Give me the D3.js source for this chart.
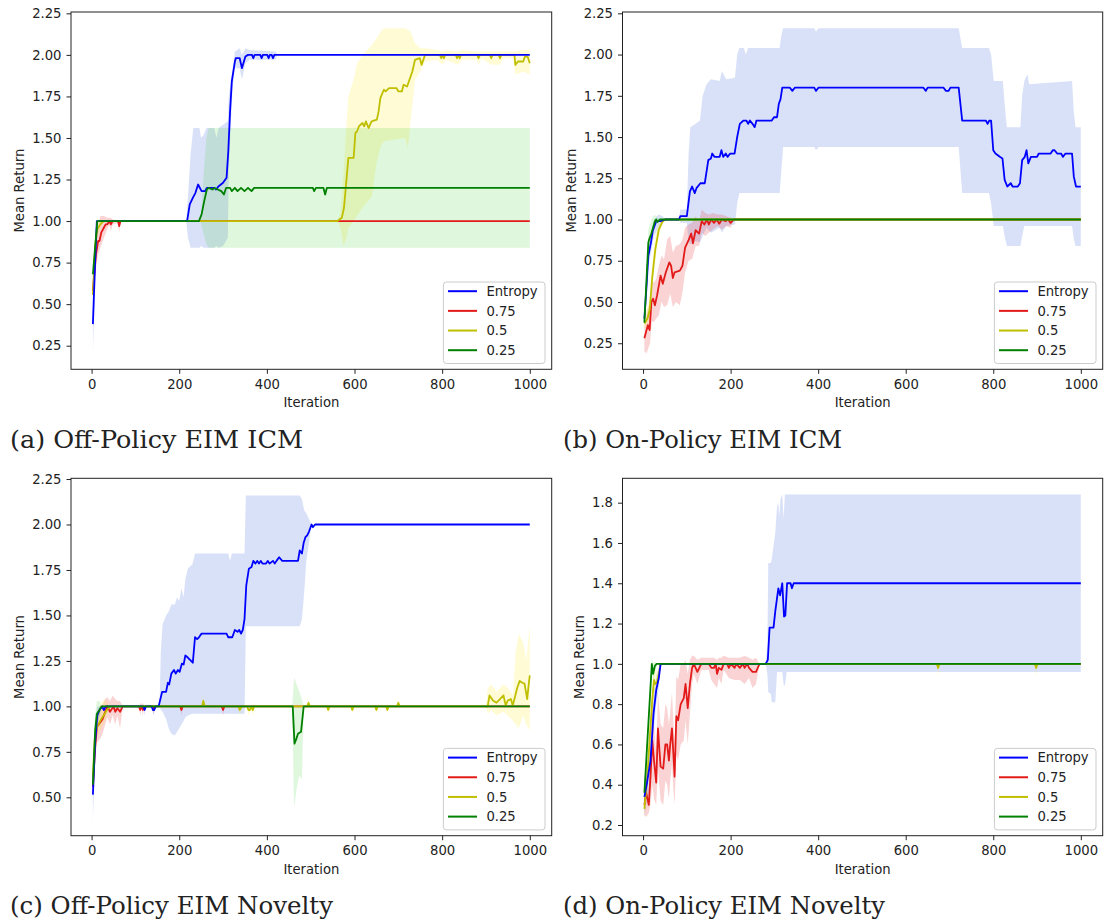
<!DOCTYPE html>
<html><head><meta charset="utf-8">
<script src="https://cdn.jsdelivr.net/npm/d3@7"></script>
<style>body{margin:0;background:#fff}</style>
</head><body>
<svg id="chart" width="1105" height="923"></svg>
<script>
// ---------------- data ----------------
const seriesLabels = ["Entropy", "0.75", "0.5", "0.25"];
const captions = ["(a) Off-Policy EIM ICM", "(b) On-Policy EIM ICM", "(c) Off-Policy EIM Novelty", "(d) On-Policy EIM Novelty"];
const xLabel = "Iteration";
const yLabel = "Mean Return";
const xTicks = [0, 200, 400, 600, 800, 1000];
const yTicksAB = [0.25, 0.50, 0.75, 1.00, 1.25, 1.50, 1.75, 2.00, 2.25];
const yTicksC = [0.50, 0.75, 1.00, 1.25, 1.50, 1.75, 2.00, 2.25];
const yTicksD = [0.2, 0.4, 0.6, 0.8, 1.0, 1.2, 1.4, 1.6, 1.8];

// (a) Off-Policy EIM ICM : [iteration, mean]  and bands [iteration, low, high]
const aEntropy = [[3,0.38],[8,0.75],[12,1.0],[218,1.0],[224,1.1],[231,1.14],[237,1.17],[243,1.22],[251,1.18],[259,1.18],[263,1.2],[280,1.2],[284,1.19],[290,1.21],[300,1.23],[308,1.26],[312,1.42],[316,1.66],[320,1.84],[327,1.96],[329,1.98],[338,1.98],[343,1.92],[351,1.99],[357,2.0],[366,2.0],[369,1.98],[372,2.0],[385,2.0],[388,1.98],[391,2.0],[401,2.0],[404,1.98],[407,2.0],[411,2.0],[414,1.98],[417,2.0],[1000,2.0]];
const aEntropyBand = [[3,0.21,0.55],[8,0.6,0.9],[12,1.0,1.0],[216,1.0,1.0],[220,0.9,1.15],[226,0.84,1.4],[232,0.84,1.56],[246,0.84,1.56],[250,0.85,1.5],[256,0.84,1.52],[262,0.84,1.56],[280,0.84,1.56],[285,0.85,1.5],[290,0.84,1.56],[300,0.85,1.58],[311,0.9,1.6],[313,1.3,1.75],[318,1.6,1.85],[322,1.8,1.92],[327,1.92,2.02],[338,1.92,2.04],[343,1.85,2.0],[351,1.95,2.04],[360,1.97,2.03],[420,1.97,2.02],[424,2.0,2.0],[1000,2.0,2.0]];
const aR75 = [[3,0.58],[10,0.8],[15,0.88],[18,0.88],[22,0.93],[28,0.96],[32,0.98],[36,0.98],[40,1.0],[44,0.98],[48,1.0],[60,1.0],[63,0.97],[66,1.0],[1000,1.0]];
const aR75Band = [[3,0.52,0.64],[10,0.72,0.92],[15,0.8,0.98],[20,0.84,1.03],[28,0.9,1.03],[36,0.95,1.02],[40,0.98,1.02],[44,0.94,1.02],[48,0.98,1.01],[60,0.99,1.0],[63,0.93,1.01],[66,1.0,1.0],[1000,1.0,1.0]];
const aY50 = [[3,0.555],[8,0.85],[13,0.95],[20,0.98],[27,1.0],[561,1.0],[571,1.02],[576,1.08],[580,1.2],[586,1.38],[598,1.38],[602,1.53],[606,1.54],[610,1.57],[618,1.59],[622,1.57],[626,1.6],[632,1.56],[639,1.6],[651,1.61],[655,1.66],[659,1.74],[667,1.79],[671,1.78],[679,1.8],[696,1.8],[700,1.78],[708,1.78],[712,1.82],[720,1.81],[724,1.84],[732,1.9],[738,1.97],[749,1.98],[753,1.94],[761,2.0],[795,2.0],[798,1.98],[801,2.0],[804,1.98],[807,2.0],[831,2.0],[834,1.98],[837,2.0],[840,1.98],[843,2.0],[880,2.0],[883,1.98],[886,2.0],[909,2.0],[912,1.98],[915,2.0],[929,2.0],[932,1.98],[935,2.0],[965,2.0],[967,1.94],[973,1.96],[985,1.96],[989,1.99],[995,1.99],[1000,1.95]];
const aY50Band = [[3,0.5,0.6],[8,0.78,0.92],[13,0.9,1.0],[20,0.95,1.01],[27,1.0,1.0],[561,1.0,1.0],[568,0.96,1.05],[575,0.85,1.3],[582,0.9,1.6],[586,0.96,1.75],[598,1.0,1.85],[606,1.03,1.95],[618,1.08,2.0],[640,1.15,2.06],[650,1.35,2.1],[660,1.45,2.14],[667,1.48,2.16],[715,1.5,2.16],[722,1.44,2.15],[728,1.6,2.14],[738,1.85,2.07],[750,1.9,2.04],[761,1.96,2.04],[790,1.97,2.03],[800,1.94,2.02],[808,1.97,2.03],[835,1.94,2.02],[845,1.97,2.03],[880,1.97,2.02],[883,1.94,2.02],[890,1.98,2.02],[912,1.94,2.02],[932,1.94,2.02],[940,1.98,2.02],[962,1.98,2.02],[967,1.88,2.02],[985,1.9,2.03],[1000,1.88,2.03]];
const aG25 = [[3,0.68],[13,1.0],[245,1.0],[251,1.04],[257,1.12],[263,1.19],[267,1.2],[276,1.19],[280,1.2],[288,1.19],[296,1.18],[302,1.16],[307,1.2],[316,1.2],[320,1.18],[327,1.2],[333,1.18],[341,1.2],[349,1.18],[357,1.2],[365,1.18],[371,1.2],[505,1.2],[508,1.18],[512,1.2],[529,1.2],[533,1.16],[537,1.2],[1000,1.2]];
const aG25Band = [[3,0.62,0.74],[13,1.0,1.0],[248,1.0,1.0],[252,0.96,1.12],[256,0.92,1.3],[262,0.86,1.5],[267,0.84,1.56],[1000,0.84,1.56]];

// (b) On-Policy EIM ICM
const bEntropy = [[3,0.4],[8,0.6],[12,0.78],[15,0.82],[18,0.86],[22,0.93],[26,0.96],[30,0.99],[40,0.99],[50,1.0],[82,1.0],[85,1.02],[100,1.02],[107,1.17],[112,1.2],[118,1.16],[122,1.19],[131,1.22],[141,1.22],[149,1.36],[155,1.37],[158,1.4],[163,1.38],[175,1.38],[179,1.42],[183,1.38],[189,1.4],[193,1.38],[199,1.4],[209,1.4],[215,1.5],[221,1.58],[229,1.6],[236,1.6],[240,1.58],[244,1.6],[250,1.58],[255,1.56],[259,1.6],[294,1.6],[299,1.62],[306,1.62],[310,1.7],[314,1.73],[318,1.8],[335,1.8],[341,1.78],[347,1.8],[391,1.8],[395,1.78],[401,1.8],[640,1.8],[646,1.78],[650,1.8],[686,1.8],[692,1.78],[698,1.78],[702,1.8],[721,1.8],[729,1.6],[783,1.6],[787,1.58],[791,1.6],[795,1.6],[800,1.42],[805,1.4],[815,1.38],[821,1.37],[826,1.24],[832,1.2],[840,1.22],[844,1.2],[856,1.2],[861,1.22],[866,1.36],[872,1.38],[876,1.42],[880,1.34],[886,1.38],[900,1.38],[904,1.4],[931,1.4],[936,1.42],[940,1.42],[946,1.4],[955,1.4],[959,1.38],[965,1.4],[980,1.4],[984,1.26],[989,1.2],[1000,1.2]];
const bEntropyBand = [[3,0.35,0.45],[12,0.72,0.85],[18,0.8,0.92],[25,0.9,1.0],[35,0.95,1.03],[45,0.98,1.02],[50,1.0,1.0],[82,1.0,1.0],[85,0.98,1.06],[100,0.98,1.06],[104,0.86,1.4],[108,0.85,1.56],[120,0.87,1.58],[130,0.86,1.6],[136,0.9,1.75],[145,0.95,1.82],[155,0.92,1.85],[175,0.95,1.84],[180,0.92,1.9],[190,0.96,1.85],[210,0.97,1.86],[215,1.1,2.0],[220,1.16,2.04],[230,1.16,2.04],[235,1.16,2.0],[240,1.16,2.04],[312,1.16,2.04],[316,1.3,2.12],[320,1.44,2.16],[391,1.44,2.16],[395,1.42,2.14],[401,1.44,2.16],[721,1.44,2.16],[729,1.16,2.04],[790,1.16,2.04],[795,1.1,2.0],[801,0.96,1.84],[822,0.96,1.84],[826,0.9,1.7],[831,0.84,1.56],[862,0.84,1.56],[866,0.9,1.75],[871,0.96,1.84],[878,0.96,1.88],[882,0.96,1.82],[980,0.96,1.84],[984,0.88,1.65],[988,0.84,1.56],[1000,0.84,1.56]];
const bR75 = [[3,0.28],[8,0.33],[11,0.36],[15,0.33],[19,0.5],[23,0.52],[27,0.48],[32,0.54],[36,0.6],[40,0.66],[45,0.61],[52,0.68],[60,0.74],[64,0.72],[68,0.645],[72,0.68],[84,0.69],[90,0.72],[96,0.83],[104,0.875],[110,0.915],[114,0.855],[120,0.935],[128,0.915],[134,0.99],[140,0.97],[146,1.0],[150,0.97],[156,1.0],[162,0.98],[168,1.0],[174,0.975],[180,1.0],[188,0.99],[194,1.0],[200,0.98],[207,1.0],[1000,1.0]];
const bR75Band = [[3,0.2,0.35],[8,0.19,0.42],[12,0.22,0.48],[16,0.25,0.42],[20,0.38,0.62],[25,0.38,0.62],[30,0.4,0.64],[36,0.42,0.72],[42,0.5,0.78],[48,0.47,0.76],[55,0.48,0.88],[62,0.55,0.9],[68,0.47,0.8],[75,0.5,0.84],[84,0.48,0.85],[90,0.56,0.88],[96,0.68,0.95],[104,0.75,0.97],[112,0.76,0.98],[120,0.84,1.02],[128,0.84,0.99],[134,0.92,1.06],[142,0.9,1.04],[150,0.92,1.03],[160,0.94,1.04],[170,0.96,1.03],[180,0.94,1.03],[190,0.96,1.02],[200,0.95,1.01],[207,1.0,1.0],[1000,1.0,1.0]];
const bY50 = [[3,0.37],[10,0.4],[15,0.45],[21,0.65],[28,0.82],[36,0.94],[44,0.985],[50,1.0],[1000,1.0]];
const bY50Band = [[3,0.34,0.42],[10,0.36,0.46],[15,0.4,0.52],[21,0.58,0.74],[28,0.76,0.9],[36,0.9,0.98],[44,0.97,1.0],[50,1.0,1.0],[1000,1.0,1.0]];
const bG25 = [[3,0.375],[12,0.86],[14,0.88],[19,0.915],[27,0.99],[30,1.0],[33,0.985],[38,1.0],[1000,1.0]];
const bG25Band = [[3,0.34,0.42],[12,0.8,0.94],[19,0.86,1.0],[26,0.97,1.03],[33,0.97,1.01],[38,1.0,1.0],[1000,1.0,1.0]];

// (c) Off-Policy EIM Novelty
const cEntropy = [[3,0.515],[8,0.8],[13,0.95],[18,0.98],[24,1.0],[28,0.98],[32,1.0],[118,1.0],[121,0.98],[124,1.0],[137,1.0],[140,0.98],[143,0.98],[146,1.0],[153,1.0],[161,1.08],[170,1.08],[174,1.13],[177,1.12],[182,1.18],[188,1.2],[192,1.18],[197,1.2],[201,1.19],[206,1.235],[210,1.23],[214,1.28],[219,1.27],[231,1.24],[236,1.38],[241,1.37],[245,1.38],[251,1.4],[308,1.4],[312,1.38],[321,1.38],[327,1.42],[333,1.41],[337,1.42],[341,1.4],[345,1.42],[349,1.48],[353,1.665],[359,1.757],[365,1.766],[369,1.8],[374,1.785],[378,1.8],[382,1.785],[386,1.8],[390,1.785],[398,1.785],[402,1.8],[406,1.785],[414,1.8],[418,1.785],[422,1.8],[428,1.82],[435,1.8],[471,1.8],[475,1.857],[480,1.84],[484,1.9],[488,1.93],[492,1.94],[496,1.96],[502,2.0],[505,1.985],[510,2.0],[1000,2.0]];
const cEntropyBand = [[3,0.37,0.66],[8,0.72,0.88],[13,0.9,1.0],[24,1.0,1.0],[118,1.0,1.0],[121,0.95,1.01],[124,1.0,1.0],[137,1.0,1.0],[141,0.95,1.01],[146,1.0,1.0],[155,1.0,1.0],[158,0.98,1.3],[162,0.97,1.45],[170,0.93,1.5],[176,0.88,1.52],[182,0.85,1.56],[190,0.84,1.56],[195,0.86,1.6],[200,0.88,1.58],[205,0.9,1.65],[210,0.92,1.6],[214,0.94,1.7],[220,0.95,1.76],[230,0.96,1.78],[236,0.96,1.84],[312,0.96,1.84],[316,0.96,1.8],[320,0.96,1.84],[349,0.96,1.84],[352,1.44,2.16],[475,1.44,2.16],[480,1.48,2.14],[485,1.62,2.08],[490,1.8,2.06],[496,1.9,2.03],[502,2.0,2.0],[1000,2.0,2.0]];
const cR75 = [[3,0.556],[8,0.77],[12,0.887],[19,0.91],[25,0.93],[31,0.97],[36,1.0],[42,0.97],[50,1.0],[54,0.97],[59,0.99],[65,0.97],[71,1.0],[108,1.0],[111,0.98],[114,1.0],[117,0.98],[120,1.0],[139,1.0],[142,0.98],[145,1.0],[202,1.0],[205,0.98],[208,1.0],[297,1.0],[300,0.98],[303,1.0],[1000,1.0]];
const cR75Band = [[3,0.5,0.62],[8,0.7,0.85],[12,0.8,0.97],[19,0.82,1.0],[25,0.85,1.01],[31,0.9,1.04],[36,0.94,1.05],[42,0.9,1.03],[48,0.95,1.06],[54,0.9,1.04],[59,0.95,1.03],[65,0.88,1.03],[71,1.0,1.0],[108,1.0,1.0],[111,0.95,1.02],[114,1.0,1.01],[117,0.95,1.02],[120,1.0,1.0],[139,1.0,1.0],[142,0.95,1.01],[145,1.0,1.0],[202,1.0,1.0],[205,0.95,1.01],[208,1.0,1.0],[297,1.0,1.0],[300,0.95,1.01],[303,1.0,1.0],[1000,1.0,1.0]];
const cY50 = [[3,0.62],[8,0.85],[15,0.9],[22,0.93],[30,0.96],[35,0.98],[42,1.0],[252,1.0],[255,1.03],[258,1.0],[335,1.0],[338,0.98],[343,1.0],[355,1.0],[358,0.98],[361,0.98],[364,1.0],[368,0.98],[371,1.0],[492,1.0],[495,1.02],[498,1.0],[537,1.0],[540,0.98],[543,1.0],[592,1.0],[595,0.98],[598,1.0],[647,1.0],[650,0.98],[653,1.0],[672,1.0],[675,0.98],[678,1.0],[697,1.0],[700,1.02],[703,1.0],[904,1.0],[908,1.06],[916,1.033],[924,1.02],[932,1.04],[940,1.06],[945,1.005],[950,1.033],[957,1.04],[961,1.005],[965,1.04],[971,1.1],[977,1.14],[983,1.13],[988,1.125],[994,1.04],[998,1.13],[1000,1.17]];
const cY50Band = [[3,0.55,0.7],[8,0.78,0.92],[15,0.84,0.98],[22,0.88,1.02],[30,0.92,1.04],[42,1.0,1.0],[252,1.0,1.0],[255,0.99,1.06],[258,1.0,1.0],[335,1.0,1.0],[338,0.95,1.0],[343,1.0,1.0],[355,1.0,1.0],[358,0.95,1.0],[364,0.98,1.0],[368,0.95,1.0],[371,1.0,1.0],[492,1.0,1.0],[495,1.0,1.04],[498,1.0,1.0],[537,1.0,1.0],[540,0.96,1.0],[543,1.0,1.0],[592,1.0,1.0],[595,0.96,1.0],[598,1.0,1.0],[647,1.0,1.0],[650,0.96,1.0],[653,1.0,1.0],[672,1.0,1.0],[675,0.96,1.0],[678,1.0,1.0],[697,1.0,1.0],[700,1.0,1.04],[703,1.0,1.0],[900,1.0,1.0],[904,0.96,1.1],[912,0.98,1.12],[924,0.95,1.08],[940,0.97,1.12],[950,0.95,1.1],[962,0.92,1.06],[968,0.9,1.3],[975,0.88,1.4],[985,0.95,1.35],[992,0.9,1.25],[1000,0.87,1.45]];
const cG25 = [[3,0.57],[8,0.865],[12,0.96],[18,0.98],[23,1.0],[459,1.0],[463,0.795],[467,0.82],[471,0.85],[478,0.86],[484,1.0],[1000,1.0]];
const cG25Band = [[3,0.45,0.68],[8,0.8,0.95],[12,0.9,1.03],[18,0.94,1.03],[23,1.0,1.0],[458,1.0,1.0],[462,0.44,1.16],[468,0.55,1.12],[474,0.62,1.08],[480,0.6,1.04],[484,1.0,1.0],[1000,1.0,1.0]];

// (d) On-Policy EIM Novelty
const dEntropy = [[3,0.34],[9,0.41],[17,0.52],[24,0.755],[30,0.87],[36,0.93],[40,1.0],[280,1.0],[285,1.02],[289,1.18],[298,1.18],[302,1.26],[309,1.375],[313,1.34],[318,1.4],[322,1.235],[325,1.24],[329,1.4],[337,1.4],[340,1.375],[344,1.4],[1000,1.4]];
const dEntropyBand = [[3,0.24,0.44],[9,0.32,0.5],[17,0.42,0.62],[24,0.66,0.85],[30,0.8,0.94],[36,0.88,0.98],[40,1.0,1.0],[280,1.0,1.0],[284,0.95,1.1],[286,0.86,1.5],[292,0.85,1.5],[294,0.81,1.52],[302,0.81,1.65],[306,0.96,1.78],[309,0.96,1.8],[311,0.96,1.73],[314,0.96,1.82],[318,0.96,1.84],[321,0.9,1.72],[324,0.89,1.84],[328,0.96,1.84],[1000,0.96,1.84]];
const dR75 = [[3,0.3],[7,0.36],[13,0.3],[17,0.44],[21,0.62],[25,0.52],[30,0.41],[34,0.68],[40,0.49],[46,0.48],[51,0.6],[55,0.6],[59,0.52],[62,0.6],[66,0.68],[69,0.56],[72,0.44],[76,0.74],[80,0.72],[86,0.8],[93,0.83],[97,0.9],[102,0.78],[107,0.9],[112,0.98],[116,1.0],[124,0.96],[133,1.0],[150,1.0],[156,0.98],[162,0.98],[166,1.0],[169,0.95],[173,0.98],[179,0.97],[184,1.0],[192,1.0],[196,0.98],[201,1.0],[209,0.98],[213,1.0],[221,0.98],[228,1.0],[232,0.98],[238,1.0],[242,0.98],[250,0.96],[258,0.96],[266,1.0],[1000,1.0]];
const dR75Band = [[3,0.25,0.34],[7,0.24,0.48],[13,0.26,0.36],[17,0.3,0.6],[21,0.4,0.82],[25,0.33,0.7],[30,0.3,0.55],[34,0.48,0.86],[40,0.32,0.7],[46,0.3,0.68],[51,0.42,0.8],[55,0.4,0.78],[59,0.33,0.7],[62,0.42,0.76],[66,0.5,0.86],[69,0.38,0.72],[72,0.3,0.6],[76,0.55,0.94],[80,0.52,0.92],[86,0.6,1.0],[93,0.62,1.0],[97,0.72,1.02],[102,0.6,0.95],[107,0.75,1.02],[112,0.9,1.04],[116,0.95,1.04],[124,0.9,1.02],[133,0.97,1.03],[150,0.97,1.03],[156,0.92,1.03],[162,0.9,1.03],[169,0.88,1.02],[173,0.93,1.03],[179,0.9,1.03],[184,0.97,1.04],[196,0.93,1.03],[209,0.92,1.03],[221,0.92,1.03],[232,0.9,1.04],[242,0.93,1.03],[250,0.88,1.02],[258,0.9,1.03],[266,1.0,1.0],[1000,1.0,1.0]];
const dY50 = [[3,0.28],[10,0.45],[15,0.62],[21,0.82],[25,0.92],[28,0.9],[32,0.91],[36,0.95],[40,1.0],[671,1.0],[674,0.98],[677,1.0],[895,1.0],[898,0.98],[901,1.0],[1000,1.0]];
const dY50Band = [[3,0.23,0.33],[10,0.38,0.52],[15,0.52,0.72],[21,0.74,0.9],[25,0.86,0.98],[32,0.86,0.96],[40,1.0,1.0],[671,1.0,1.0],[674,0.94,1.0],[677,1.0,1.0],[895,1.0,1.0],[898,0.94,1.0],[901,1.0,1.0],[1000,1.0,1.0]];
const dG25 = [[3,0.36],[20,1.0],[23,0.95],[27,0.99],[31,1.0],[1000,1.0]];
const dG25Band = [[3,0.33,0.4],[20,0.97,1.03],[23,0.9,1.0],[27,0.96,1.01],[31,1.0,1.0],[1000,1.0,1.0]];

// ---------------- styles ----------------
const lineColors = ["#0000ff", "#e31a1a", "#bfbf00", "#008000"];
const bandColors = ["rgb(65,105,225)", "rgb(230,60,60)", "rgb(255,235,40)", "rgb(80,210,60)"];
const bandOpacity = [0.2, 0.22, 0.2, 0.18];
const lineOrder = [1, 2, 0, 3];
const FONT = "'DejaVu Sans', sans-serif";
const FS = 13.2;

const panels = [
  {rect:[71,12,551.7,369.3], yDom:[0.108,2.258], yTicks:yTicksAB, fmt:".2f", ylabOff:51.8,
   means:[aEntropy,aR75,aY50,aG25], bands:[aEntropyBand,aR75Band,aY50Band,aG25Band], cap:[10,447.5,293]},
  {rect:[622.5,12,1102.7,369.3], yDom:[0.092,2.258], yTicks:yTicksAB, fmt:".2f", ylabOff:51.8,
   means:[bEntropy,bR75,bY50,bG25], bands:[bEntropyBand,bR75Band,bY50Band,bG25Band], cap:[563,447.5,279]},
  {rect:[71,478.3,551.7,835.7], yDom:[0.289,2.254], yTicks:yTicksC, fmt:".2f", ylabOff:51.8,
   means:[cEntropy,cR75,cY50,cG25], bands:[cEntropyBand,cR75Band,cY50Band,cG25Band], cap:[10,914,323]},
  {rect:[622.5,478.3,1102.7,835.7], yDom:[0.147,1.921], yTicks:yTicksD, fmt:".1f", ylabOff:43.5,
   means:[dEntropy,dR75,dY50,dG25], bands:[dEntropyBand,dR75Band,dY50Band,dG25Band], cap:[563,914,322]}
];

const svg = d3.select("#chart");

panels.forEach((p, pi) => {
  const [x0, y0, x1, y1] = p.rect;
  const x = d3.scaleLinear().domain([-47, 1050]).range([x0, x1]);
  const y = d3.scaleLinear().domain(p.yDom).range([y1, y0]);
  const g = svg.append("g");
  const clipId = "clip" + pi;
  g.append("clipPath").attr("id", clipId).append("rect")
    .attr("x", x0).attr("y", y0).attr("width", x1 - x0).attr("height", y1 - y0);
  const plot = g.append("g").attr("clip-path", `url(#${clipId})`);

  const area = d3.area().x(d => x(d[0])).y0(d => y(d[1])).y1(d => y(d[2]));
  const line = d3.line().x(d => x(d[0])).y(d => y(d[1]));

  p.bands.forEach((b, i) => {
    plot.append("path").attr("d", area(b))
      .attr("fill", bandColors[i]).attr("fill-opacity", bandOpacity[i]).attr("stroke", "none");
  });
  lineOrder.forEach(i => {
    plot.append("path").attr("d", line(p.means[i]))
      .attr("fill", "none").attr("stroke", lineColors[i]).attr("stroke-width", 1.8)
      .attr("stroke-linejoin", "round").attr("stroke-linecap", "butt");
  });

  // axes
  const xa = g.append("g").attr("transform", `translate(0,${y1})`)
    .call(d3.axisBottom(x).tickValues(xTicks).tickSize(4.5).tickPadding(5.6).tickFormat(d3.format("d")));
  const ya = g.append("g").attr("transform", `translate(${x0},0)`)
    .call(d3.axisLeft(y).tickValues(p.yTicks).tickSize(4.5).tickPadding(5).tickFormat(d3.format(p.fmt)));
  [xa, ya].forEach(a => {
    a.select(".domain").remove();
    a.selectAll("line").attr("stroke", "#222").attr("stroke-width", 1);
    a.selectAll("text").attr("font-family", FONT).attr("font-size", FS).attr("fill", "#222");
  });

  g.append("rect").attr("x", x0).attr("y", y0).attr("width", x1 - x0).attr("height", y1 - y0)
    .attr("fill", "none").attr("stroke", "#222").attr("stroke-width", 1);

  g.append("text").attr("x", (x0 + x1) / 2).attr("y", y1 + 38).attr("text-anchor", "middle")
    .attr("font-family", FONT).attr("font-size", FS).attr("fill", "#222").text(xLabel);
  g.append("text").attr("transform", `translate(${x0 - p.ylabOff + 4.8},${(y0 + y1) / 2}) rotate(-90)`)
    .attr("text-anchor", "middle").attr("font-family", FONT).attr("font-size", FS).attr("fill", "#222").text(yLabel);

  // legend
  const lw = 101.6, lh = 81.5;
  const lx = x1 - 6.7 - lw, ly = y1 - 5.8 - lh;
  const lg = g.append("g");
  lg.append("rect").attr("x", lx).attr("y", ly).attr("width", lw).attr("height", lh).attr("rx", 3)
    .attr("fill", "#fff").attr("fill-opacity", 0.8).attr("stroke", "#ccc").attr("stroke-width", 1);
  seriesLabels.forEach((s, i) => {
    const ry = ly + 9.2 + i * 19.67;
    lg.append("line").attr("x1", lx + 4.6).attr("x2", lx + 33.6).attr("y1", ry).attr("y2", ry)
      .attr("stroke", lineColors[i]).attr("stroke-width", 2);
    lg.append("text").attr("x", lx + 43).attr("y", ry + 4.8).attr("font-family", FONT)
      .attr("font-size", FS).attr("fill", "#222").text(s);
  });

  // caption
  svg.append("text").attr("x", p.cap[0]).attr("y", p.cap[1])
    .attr("font-family", "'DejaVu Serif', serif").attr("font-size", 24).attr("fill", "#222")
    .attr("textLength", p.cap[2]).attr("lengthAdjust", "spacingAndGlyphs")
    .text(captions[pi]);
});
</script>
</body></html>
